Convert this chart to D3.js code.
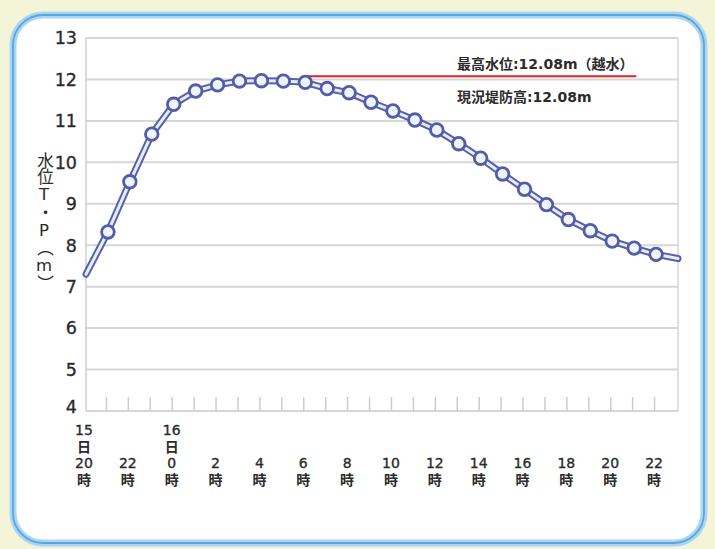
<!DOCTYPE html>
<html lang="ja">
<head>
<meta charset="UTF-8">
<title>水位T・P</title>
<script src="https://d3js.org/d3.v7.min.js"></script>
<style>
    html, body { margin: 0; padding: 0; background: #f3f4d8; }
    svg { display: block; }
    text { fill: #2b2b2b; font-family: "DejaVu Sans", "Noto Sans CJK JP", sans-serif; }
</style>
</head>
<body>
<div class="container"></div>
<script>
    // hourly readings, 15日20時 -> 16日23時
    const hours = [20, 21, 22, 23, 0, 1, 2, 3, 4, 5, 6, 7, 8, 9, 10, 11, 12, 13, 14, 15, 16, 17, 18, 19, 20, 21, 22, 23];
    const levels = [7.3, 8.32, 9.53, 10.68, 11.4, 11.72, 11.87, 11.96, 11.97, 11.96, 11.93, 11.78, 11.68, 11.45,
                    11.24, 11.02, 10.78, 10.45, 10.1, 9.72, 9.35, 8.98, 8.62, 8.35, 8.1, 7.93, 7.78, 7.68];
    const yTicks = [4, 5, 6, 7, 8, 9, 10, 11, 12, 13];
    // labelled x ticks (index into hours) and their text lines
    const xLabelIdx = [0, 2, 4, 6, 8, 10, 12, 14, 16, 18, 20, 22, 24, 26];
    const xLabelLines = [["15", "日", "20", "時"], ["22", "時"], ["16", "日", "0", "時"], ["2", "時"], ["4", "時"],
                         ["6", "時"], ["8", "時"], ["10", "時"], ["12", "時"], ["14", "時"], ["16", "時"],
                         ["18", "時"], ["20", "時"], ["22", "時"]];
    // levee crown / peak level line
    const levee = { from: 10, to: 25.1, value: 12.08 };
    const leveeLabels = ["最高水位:12.08m（越水）", "現況堤防高:12.08m"];
    const yTitle = "水位T・P（m）";

    const W = 715, H = 549;
    const svg = d3.select(".container").append("svg")
        .attr("width", W).attr("height", H);

    // panel
    svg.append("rect").attr("width", W).attr("height", H).attr("fill", "#f3f4d8");
    svg.append("rect")
        .attr("x", 13).attr("y", 15).attr("width", 691).attr("height", 528).attr("rx", 30)
        .attr("fill", "#fff").attr("stroke", "#a9d6f2").attr("stroke-width", 7);
    svg.append("rect")
        .attr("x", 13).attr("y", 15).attr("width", 691).attr("height", 528).attr("rx", 30)
        .attr("fill", "none").attr("stroke", "#5aa6dc").attr("stroke-width", 1.8);

    const pl = 86, pr = 678, pt = 38, pb = 411;
    const x = d3.scaleLinear().domain([0, hours.length - 1]).range([pl, pr]);
    const y = d3.scaleLinear().domain([4, 13]).range([pb, pt]);

    // grid lines
    svg.append("g").selectAll("line")
        .data(yTicks.filter(d => d > 4))
        .join("line")
        .attr("x1", pl).attr("x2", pr)
        .attr("y1", d => y(d)).attr("y2", d => y(d))
        .attr("stroke", "#d6d6d6").attr("stroke-width", 2);

    // axis frame
    svg.append("line").attr("x1", pl).attr("x2", pl).attr("y1", pt).attr("y2", pb)
        .attr("stroke", "#cfcfcf").attr("stroke-width", 1.5);
    svg.append("line").attr("x1", pr).attr("x2", pr).attr("y1", pt).attr("y2", pb)
        .attr("stroke", "#d6d6d6").attr("stroke-width", 1.5);
    svg.append("line").attr("x1", pl).attr("x2", pr).attr("y1", pb).attr("y2", pb)
        .attr("stroke", "#c8c8c8").attr("stroke-width", 1.5);

    // hourly ticks
    svg.append("g").selectAll("line")
        .data(hours.map((h, i) => i).filter(i => i > 0 && i < hours.length - 1))
        .join("line")
        .attr("x1", i => x(i) - 1.5).attr("x2", i => x(i) - 1.5)
        .attr("y1", pb - 14).attr("y2", pb)
        .attr("stroke", "#cdcdcd").attr("stroke-width", 1.5);

    // y labels
    svg.append("g").selectAll("text")
        .data(yTicks)
        .join("text")
        .attr("x", 77).attr("y", d => y(d) - (d === 4 ? 4 : 0))
        .attr("dy", "0.36em")
        .attr("text-anchor", "end")
        .attr("font-size", 17.5)
        .attr("stroke", "#2b2b2b").attr("stroke-width", 0.35)
        .text(d => d);

    // y title, vertical
    svg.append("text")
        .attr("x", 44).attr("y", 152)
        .attr("font-size", 16.5)
        .style("writing-mode", "vertical-rl")
        .style("text-orientation", "upright")
        .text(yTitle);

    // x labels
    const xl = svg.append("g").selectAll("text")
        .data(xLabelIdx)
        .join("text")
        .attr("text-anchor", "middle")
        .attr("font-size", 14);
    xl.each(function(d, k) {
        const lines = xLabelLines[k];
        const t = d3.select(this);
        const y0 = lines.length === 4 ? 435 : 468;
        lines.forEach((s, j) => {
            t.append("tspan")
                .attr("x", x(d) - 2)
                .attr("y", y0 + j * 16.5)
                .attr("font-weight", s === "時" || s === "日" ? "bold" : "normal")
                .attr("stroke", s === "時" || s === "日" ? "none" : "#2b2b2b")
                .attr("stroke-width", 0.35)
                .text(s);
        });
    });

    // levee line + labels
    svg.append("line")
        .attr("x1", x(levee.from)).attr("x2", x(levee.to))
        .attr("y1", y(levee.value)).attr("y2", y(levee.value))
        .attr("stroke", "#d8262a").attr("stroke-width", 2);
    svg.append("g").selectAll("text")
        .data(leveeLabels)
        .join("text")
        .attr("x", 457)
        .attr("y", (d, i) => y(levee.value) - 7 + i * 33)
        .attr("font-size", 14)
        .attr("font-weight", "bold")
        .attr("fill", "#333")
        .text(d => d);

    // water level line: double stroke
    const line = d3.line().x((d, i) => x(i)).y(d => y(d));
    svg.append("path").datum(levels)
        .attr("d", line).attr("fill", "none")
        .attr("stroke", "#5860aa").attr("stroke-width", 7)
        .attr("stroke-linecap", "round").attr("stroke-linejoin", "round");
    svg.append("path").datum(levels)
        .attr("d", line).attr("fill", "none")
        .attr("stroke", "#e8ecf9").attr("stroke-width", 3)
        .attr("stroke-linecap", "round").attr("stroke-linejoin", "round");

    // markers (interior points only)
    svg.append("g").selectAll("circle")
        .data(levels.map((v, i) => ({ v, i })).filter(d => d.i > 0 && d.i < levels.length - 1))
        .join("circle")
        .attr("cx", d => x(d.i)).attr("cy", d => y(d.v))
        .attr("r", 6.3)
        .attr("fill", "#eef3fc")
        .attr("stroke", "#525ca8").attr("stroke-width", 2.8);
</script>
</body>
</html>
